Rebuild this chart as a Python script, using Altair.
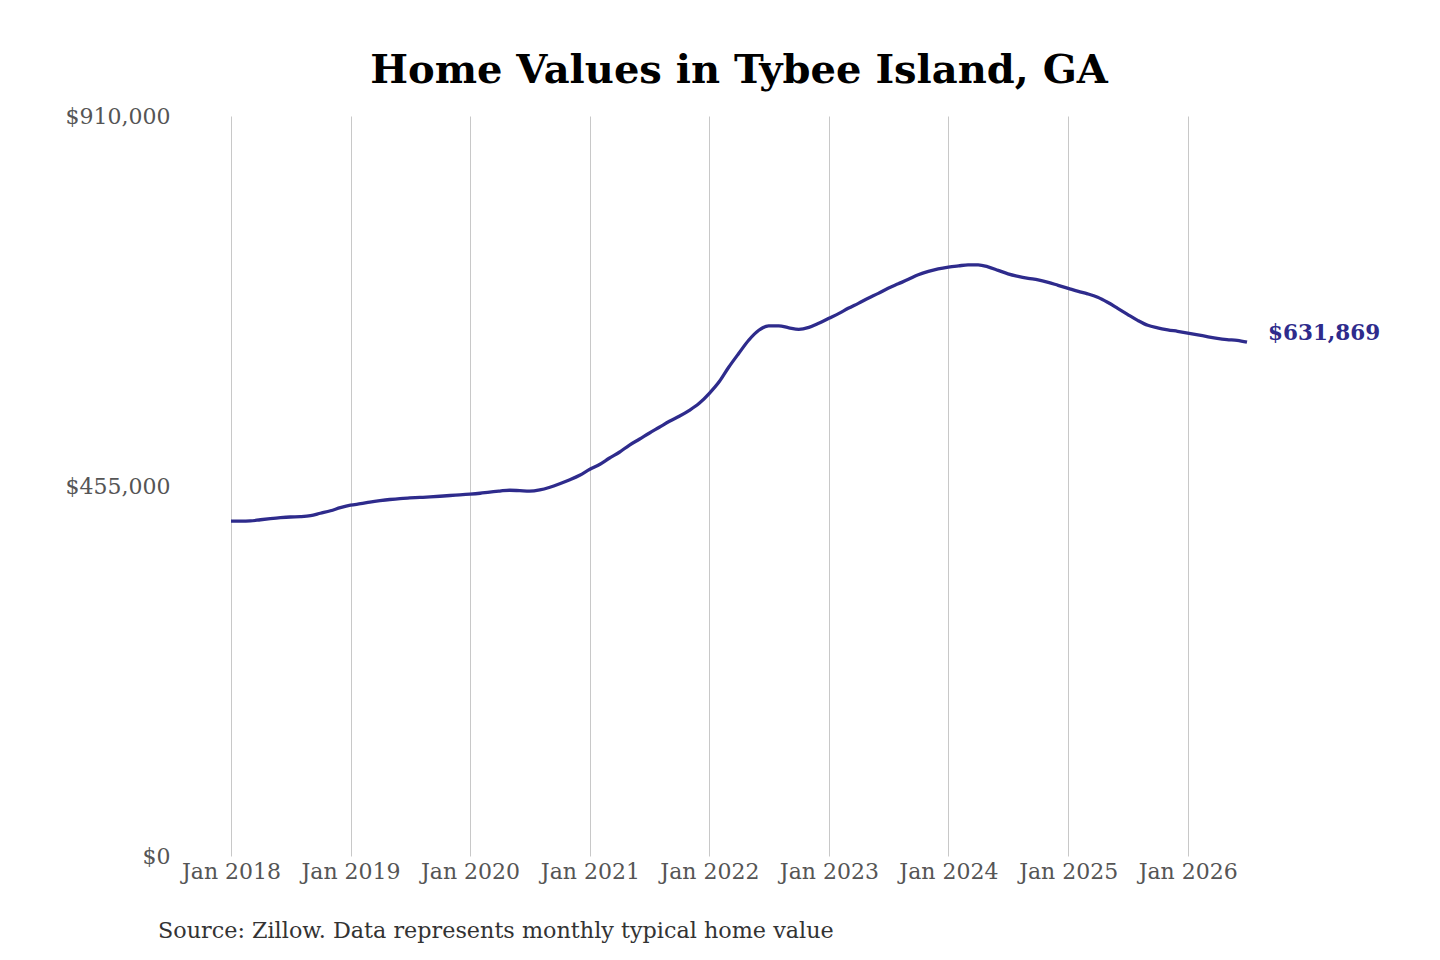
import altair as alt
import pandas as pd

months = pd.date_range("2018-01-01", "2026-07-01", freq="MS").strftime("%Y-%m-%dT00:00:00").tolist()

values = [
    # 2018
    411700, 411700, 412100, 413500, 414800, 416000, 416900, 417300, 418500, 421500, 424600, 428300,
    # 2019
    431400, 433200, 435100, 436900, 438400, 439600, 440300, 440900, 441600, 442400, 443300, 444000,
    # 2020
    444900, 446100, 447600, 448800, 449800, 449200, 448600, 450100, 453500, 457800, 462700, 468200,
    # 2021
    475600, 481800, 489100, 496500, 505100, 512500, 519900, 527200, 534600, 540800, 548100, 556700,
    # 2022
    569000, 583800, 601000, 618200, 634200, 646500, 652000, 652000, 649500, 647700, 650100, 655100,
    # 2023
    661200, 667300, 673500, 679600, 685800, 691900, 698100, 703600, 709100, 714700, 718900, 722000,
    # 2024
    724200, 725700, 726900, 726900, 724500, 720200, 715900, 712800, 710400, 708500, 705400, 701800,
    # 2025
    698100, 694400, 691300, 687000, 680900, 673500, 666100, 658700, 652600, 649500, 647100, 645200,
    # 2026
    643100, 640900, 638800, 636600, 635100, 634200, 631869,
]

y_ticks = [0, 455000, 910000]
title_text = "Home Values in Tybee Island, GA"
source_text = "Source: Zillow. Data represents monthly typical home value"

df = pd.DataFrame({"date": months, "value": values})
last = df.tail(1)

FONT = "DejaVu Serif"
LINE_COLOR = "#2e2b8c"

x_enc = alt.X(
    "date:T",
    scale=alt.Scale(domain=[alt.DateTime(year=2018, month=1, date=1),
                            alt.DateTime(year=2026, month=7, date=1)]),
    axis=alt.Axis(
        title=None, format="%b %Y", tickCount=alt.TimeIntervalStep(interval="year", step=1),
        grid=True, gridColor="#c8c8c8", gridWidth=1, domain=False, ticks=False,
        labelPadding=5, labelFont=FONT, labelFontSize=22, labelColor="#555555",
        labelOverlap=False, labelFlush=False,
    ),
)
y_enc = alt.Y(
    "value:Q",
    scale=alt.Scale(domain=[0, 910000], nice=False),
    axis=alt.Axis(
        title=None, values=y_ticks, format="$,.0f", grid=False, domain=False, ticks=False,
        labelPadding=61, labelFont=FONT, labelFontSize=22, labelColor="#555555",
    ),
)

line = alt.Chart(df).mark_line(color=LINE_COLOR, strokeWidth=3.3, interpolate="monotone").encode(
    x=x_enc, y=y_enc
)

end_label = alt.Chart(last).mark_text(
    align="left", baseline="middle", dx=21, dy=-8, font=FONT, fontSize=21.5,
    fontWeight="bold", color=LINE_COLOR,
).encode(x="date:T", y="value:Q", text=alt.Text("value:Q", format="$,.0f"))

source = alt.Chart(last).mark_text(
    align="left", baseline="middle", font=FONT, fontSize=22.3, color="#333333",
).encode(x=alt.value(-73), y=alt.value(815), text=alt.value(source_text))

chart = alt.layer(line, end_label, source).properties(
    width=1016,
    height=740,
    padding={"left": 223, "top": 108, "right": 180, "bottom": 90},
    autosize=alt.AutoSizeParams(type="none"),
    title=alt.TitleParams(
        text=title_text, font=FONT, fontSize=40, fontWeight="bold", color="#000000",
        anchor="middle", offset=14,
    ),
).configure(background="white").configure_view(stroke=None)

chart.save("out.html", embed_options={"renderer": "svg", "actions": False})
